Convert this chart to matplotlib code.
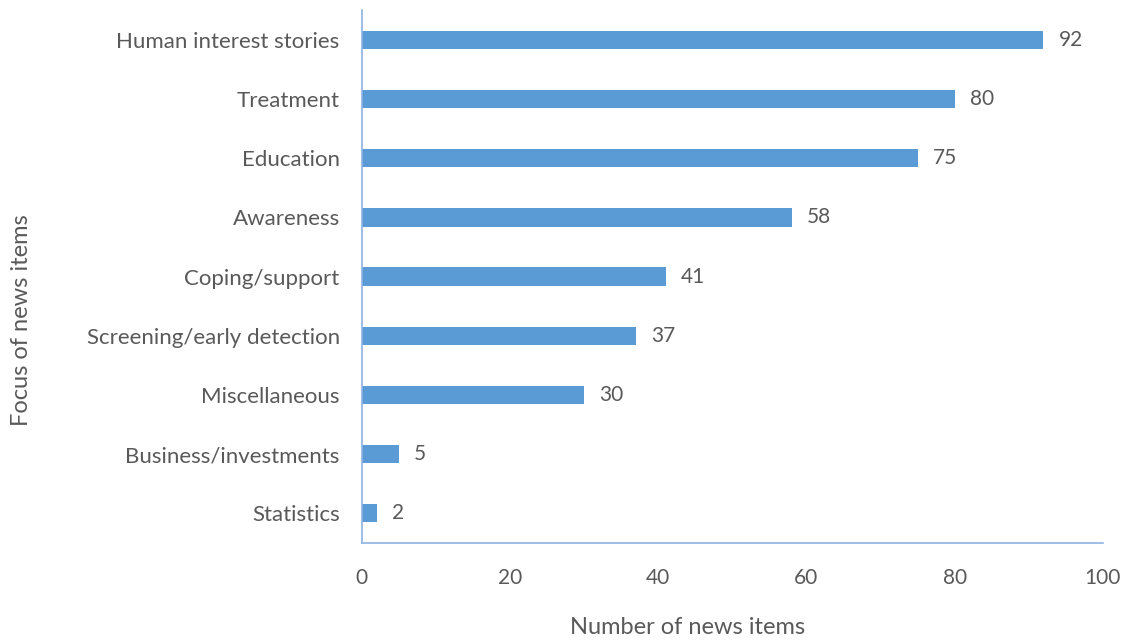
import matplotlib.pyplot as plt

categories = ["Human interest stories", "Treatment", "Education", "Awareness",
              "Coping/support", "Screening/early detection", "Miscellaneous",
              "Business/investments", "Statistics"]
values = [92, 80, 75, 58, 41, 37, 30, 5, 2]

bar_color = "#5B9BD5"
text_color = "#595959"
plt.rcParams["font.family"] = ["Lato", "DejaVu Sans"]

fig = plt.figure(figsize=(11.31, 6.44), dpi=100)
ax = fig.add_axes([0.320, 0.157, 0.655, 0.827])

pos = list(range(len(categories)))
ax.barh(pos, values, height=0.31, color=bar_color)
for p, v in zip(pos, values):
    ax.annotate(str(v), (v, p), xytext=(11, 0), textcoords="offset points",
                va="center", ha="left", fontsize=15, color=text_color)

ax.set_ylim(8.5, -0.5)
ax.set_xlim(0, 100)
ax.set_xticks([0, 20, 40, 60, 80, 100])
ax.set_yticks(pos)
ax.set_yticklabels(categories, fontsize=16)
ax.tick_params(axis="both", length=0, labelcolor=text_color)
ax.tick_params(axis="x", pad=18, labelsize=15)
ax.tick_params(axis="y", pad=16)

for s in ["top", "right"]:
    ax.spines[s].set_visible(False)
for s in ["left", "bottom"]:
    ax.spines[s].set_color("#8DB3E2")
    ax.spines[s].set_linewidth(1.2)

ax.set_xlabel("Number of news items", fontsize=17, color=text_color)
ax.set_ylabel("Focus of news items", fontsize=17, color=text_color)
ax.xaxis.set_label_coords(0.439, -0.159)
ax.yaxis.set_label_coords(-0.459, 0.418)
ax.xaxis.label.set_va("center")
ax.yaxis.label.set_va("center")

fig.savefig("out.png", dpi=100)
